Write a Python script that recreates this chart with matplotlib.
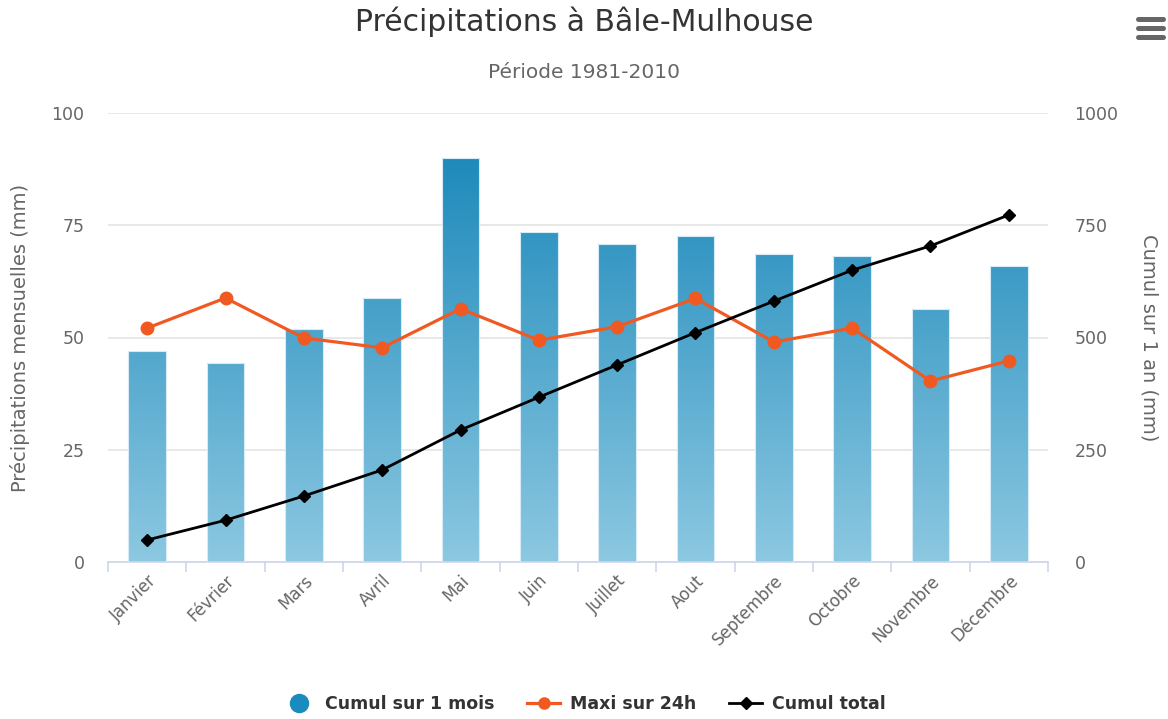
import numpy as np
import matplotlib.pyplot as plt
from matplotlib.colors import LinearSegmentedColormap
from matplotlib.lines import Line2D

# Données mensuelles, normales 1981-2010
mois = ['Janvier', 'Février', 'Mars', 'Avril', 'Mai', 'Juin', 'Juillet',
        'Aout', 'Septembre', 'Octobre', 'Novembre', 'Décembre']
cumul_mois = [47.0, 44.3, 51.9, 58.8, 90.0, 73.4, 70.8, 72.6, 68.6, 68.2, 56.3, 65.9]
maxi_24h = [52.1, 58.8, 49.9, 47.7, 56.4, 49.4, 52.4, 58.7, 49.0, 52.1, 40.3, 44.8]
cumul_total = [49, 93, 147, 205, 294, 367, 439, 511, 581, 650, 704, 773]

left_ticks = [0, 25, 50, 75, 100]
right_ticks = [0, 250, 500, 750, 1000]

GRIS = '#666666'
FONCE = '#333333'
ORANGE = '#f05a22'
AXE = '#ccd6eb'

fig = plt.figure(figsize=(11.68, 7.19), dpi=100)
ax = fig.add_axes([108 / 1168, 1 - 562 / 719, 940 / 1168, 449 / 719])
ax2 = ax.twinx()

x = np.arange(len(mois))

# colonnes avec dégradé vertical commun à toute la zone de tracé
cmap = LinearSegmentedColormap.from_list('pluie', ['#8cc8e1', '#1283b7'])
grad = np.linspace(0, 1, 256).reshape(-1, 1)
bars = ax.bar(x, cumul_mois, width=0.48, facecolor='none',
              edgecolor='#d6ebf5', linewidth=0.8, zorder=3)
for b in bars:
    im = ax.imshow(grad, extent=[-0.5, 11.5, 0, 100], origin='lower',
                   cmap=cmap, aspect='auto', zorder=2)
    im.set_clip_path(b)

ax.plot(x, maxi_24h, color=ORANGE, lw=2.3, marker='o', ms=9, zorder=4)
ax2.plot(x, cumul_total, color='black', lw=2.0, marker='D', ms=6.5, zorder=5)

ax.set_xlim(-0.5, 11.5)
ax.set_ylim(0, 100)
ax2.set_ylim(0, 1000)

ax.set_yticks(left_ticks)
ax2.set_yticks(right_ticks)
ax.yaxis.grid(True, color='#e6e6e6', lw=1.3)
ax.set_axisbelow(True)

for a in (ax, ax2):
    for s in a.spines.values():
        s.set_visible(False)
ax.spines['bottom'].set_visible(True)
ax.spines['bottom'].set_color(AXE)
ax.spines['bottom'].set_linewidth(1.2)

ax.set_xticks(x)
ax.set_xticklabels(mois, rotation=45, ha='right', rotation_mode='anchor',
                   color=GRIS, fontsize=12)
ax.set_xticks(np.arange(-0.5, 12, 1), minor=True)
ax.tick_params(axis='x', which='major', length=0, pad=7)
ax.tick_params(axis='x', which='minor', length=7.5, color=AXE, width=1.2)
ax.tick_params(axis='y', length=0, pad=17, labelcolor=GRIS, labelsize=12.5)
ax2.tick_params(axis='y', length=0, pad=19, labelcolor=GRIS, labelsize=12.5)

ax.set_ylabel('Précipitations mensuelles (mm)', color=GRIS, fontsize=14)
ax.yaxis.set_label_coords(-0.083, 0.5)
ax2.set_ylabel('Cumul sur 1 an (mm)', color=GRIS, fontsize=14, rotation=270)
ax2.yaxis.set_label_coords(1.118, 0.5)

fig.text(0.5, 1 - 22 / 719, 'Précipitations à Bâle-Mulhouse', ha='center',
         va='center', fontsize=21.5, color=FONCE)
fig.text(0.5, 1 - 73 / 719, 'Période 1981-2010', ha='center', va='center',
         fontsize=14.5, color=GRIS)

# icône de menu
for yy in (19, 28, 37):
    fig.add_artist(Line2D([1138 / 1168, 1163 / 1168], [1 - yy / 719] * 2,
                          color=GRIS, lw=3.6, solid_capstyle='round'))

handles = [
    Line2D([], [], ls='none', marker='o', ms=13, color='#1a8bbf'),
    Line2D([], [], color=ORANGE, lw=2.3, marker='o', ms=8),
    Line2D([], [], color='black', lw=2.0, marker='D', ms=6),
]
leg = fig.legend(handles, ['Cumul sur 1 mois', 'Maxi sur 24h', 'Cumul total'],
                 loc='center', bbox_to_anchor=(0.5, 1 - 704 / 719), ncol=3,
                 frameon=False, handlelength=1.9, columnspacing=1.9,
                 handletextpad=0.55,
                 prop={'size': 12.5, 'weight': 'bold'})
for t in leg.get_texts():
    t.set_color(FONCE)

fig.savefig('out.png', dpi=100)
